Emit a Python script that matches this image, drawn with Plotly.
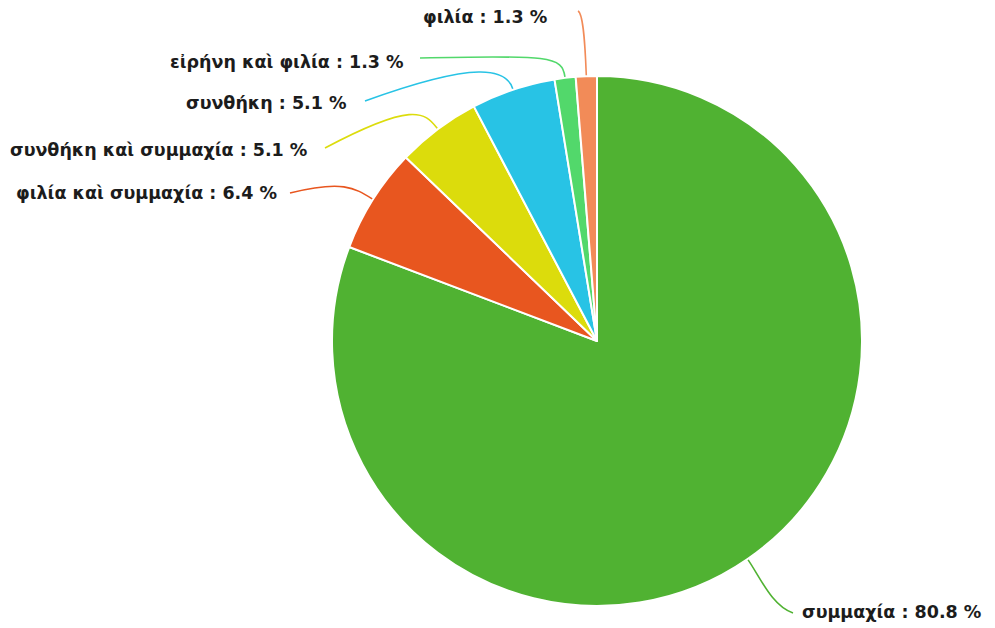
import math
import plotly.graph_objects as go

# ---- data ----
labels = ["συμμαχία", "φιλία καὶ συμμαχία", "συνθήκη καὶ συμμαχία", "συνθήκη",
          "εἰρήνη καὶ φιλία", "φιλία"]
counts = [63, 5, 4, 4, 1, 1]
colors = ["#50B232", "#E8561F", "#DCDC0C", "#28C3E5", "#52D86B", "#F28B58"]

# ---- layout (pixel geometry of the page) ----
W, H = 995, 628
OFF = 8  # page body margin
CX, CY, R = 597, 341, 265
# label line end points and text anchors (pixels in screenshot)
line_end = [(793, 613), (290, 193), (325, 148), (365, 101), (420, 58), (578, 11)]
knee = [(772, 606), (342, 180), (412, 102), (478, 60), (550, 55), (584, 14)]
text_pos = [(800, 612), (279, 193), (309, 150), (349, 103), (406, 62), (549, 17)]
text_anchor = ["left", "right", "right", "right", "right", "right"]

total = sum(counts)
pct = [c / total * 100 for c in counts]


def px(x, y):
    return (x - OFF) / W, 1 - (y - OFF) / H


cx0, cy0 = px(CX, CY)
fig = go.Figure(go.Pie(
    labels=labels, values=counts, sort=False, direction="clockwise", rotation=0,
    marker=dict(colors=colors, line=dict(color="white", width=2)),
    textinfo="none", hoverinfo="label+percent", showlegend=False,
    domain=dict(x=[cx0 - R / W, cx0 + R / W], y=[cy0 - R / H, cy0 + R / H]),
))

shapes, annotations = [], []
cum = 0.0
for i, c in enumerate(counts):
    mid = (cum + c / 2) / total * 2 * math.pi
    cum += c
    sx, sy = CX + (R + 1) * math.sin(mid), CY - (R + 1) * math.cos(mid)
    c1x, c1y = CX + (R + 22) * math.sin(mid), CY - (R + 22) * math.cos(mid)
    kx, ky = knee[i]
    ex, ey = line_end[i]
    pts = [px(sx, sy), px(c1x, c1y), px(kx, ky), px(ex, ey)]
    path = "M {:.5f},{:.5f} C {:.5f},{:.5f} {:.5f},{:.5f} {:.5f},{:.5f}".format(
        *[v for p in pts for v in p])
    shapes.append(dict(type="path", path=path, xref="paper", yref="paper",
                       line=dict(color=colors[i], width=1.6)))
    tx, ty = px(*text_pos[i])
    annotations.append(dict(
        x=tx, y=ty, xref="paper", yref="paper", xanchor=text_anchor[i], yanchor="middle",
        text="{} : {:.1f} %".format(labels[i], pct[i]), showarrow=False,
        font=dict(family="DejaVu Sans, sans-serif", size=17.5, color="#1c1c1c", weight="bold"),
    ))

fig.update_layout(
    width=W, height=H, margin=dict(l=0, r=0, t=0, b=0),
    paper_bgcolor="white", plot_bgcolor="white",
    shapes=shapes, annotations=annotations,
)

fig.write_html("out.html")
